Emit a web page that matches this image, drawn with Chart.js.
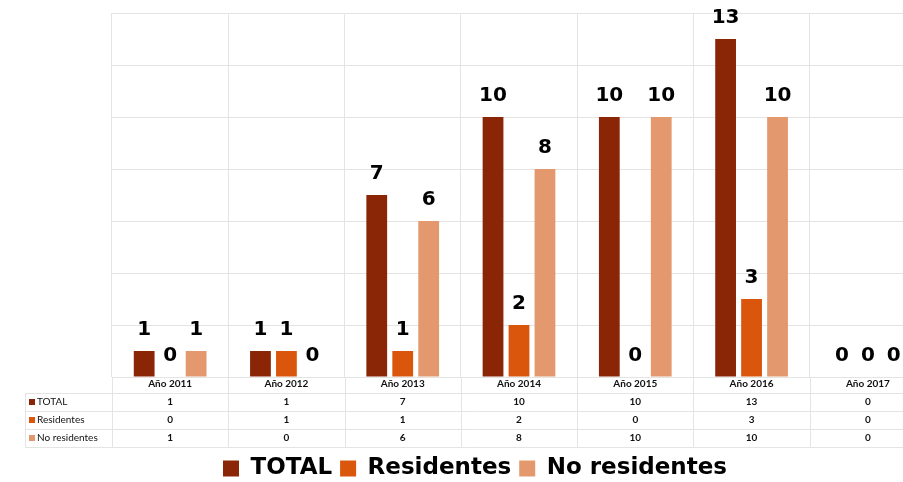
<!DOCTYPE html>
<html>
<head>
<meta charset="utf-8">
<script src="https://cdn.jsdelivr.net/npm/chart.js@4.4.1/dist/chart.umd.min.js"></script>
<style>
  html, body { margin: 0; padding: 0; background: #ffffff; overflow: hidden; }
  #wrap { width: 926px; height: 482px; }
</style>
</head>
<body>
<div id="wrap"><canvas id="c" width="926" height="482"></canvas></div>
<script>
const categories = ['Año 2011', 'Año 2012', 'Año 2013', 'Año 2014', 'Año 2015', 'Año 2016', 'Año 2017'];
const seriesNames = ['TOTAL', 'Residentes', 'No residentes'];
const totalValues = [1, 1, 7, 10, 10, 13, 0];
const residentesValues = [0, 1, 1, 2, 0, 3, 0];
const noResidentesValues = [1, 0, 6, 8, 10, 10, 0];
const seriesColors = ['#8a2606', '#d9560c', '#e3996d'];

const GRID = '#e4e4e4';

const tablePlugin = {
  id: 'tablePlugin',
  afterDraw(chart) {
    const ctx = chart.ctx;
    const xs = chart.scales.x;
    const area = chart.chartArea;
    const rowH = 18;
    const headerBottom = xs.top + 16;
    const tableBottom = headerBottom + rowH * 3;
    ctx.save();
    ctx.strokeStyle = GRID;
    ctx.lineWidth = 1;
    for (let i = 0; i <= categories.length; i++) {
      const x = Math.round(xs.getPixelForValue(i - 0.5)) + 0.5;
      ctx.beginPath();
      ctx.moveTo(x, area.bottom);
      ctx.lineTo(x, tableBottom);
      ctx.stroke();
    }
    for (let r = 0; r <= 3; r++) {
      const y = Math.round(headerBottom + r * rowH) + 0.5;
      ctx.beginPath();
      ctx.moveTo(25, y);
      ctx.lineTo(chart.width, y);
      ctx.stroke();
    }
    ctx.beginPath();
    ctx.moveTo(25.5, headerBottom);
    ctx.lineTo(25.5, tableBottom);
    ctx.stroke();
    chart.data.datasets.forEach((ds, r) => {
      const yc = headerBottom + r * rowH + rowH / 2;
      ctx.fillStyle = ds.backgroundColor;
      ctx.fillRect(29, yc - 3, 6, 6);
      ctx.fillStyle = '#111';
      ctx.font = '10px Lato';
      ctx.textAlign = 'left';
      ctx.textBaseline = 'middle';
      ctx.fillText(ds.label, 37, yc);
      ctx.font = 'bold 10px Lato';
      ctx.textAlign = 'center';
      ds.data.forEach((v, j) => {
        ctx.fillText(String(v), xs.getPixelForValue(j), yc);
      });
    });
    ctx.restore();
  }
};

const labelPlugin = {
  id: 'labelPlugin',
  afterDatasetsDraw(chart) {
    const ctx = chart.ctx;
    ctx.save();
    ctx.font = 'bold 20px "DejaVu Sans"';
    ctx.fillStyle = '#000';
    ctx.textAlign = 'center';
    ctx.textBaseline = 'bottom';
    chart.data.datasets.forEach((ds, i) => {
      const meta = chart.getDatasetMeta(i);
      meta.data.forEach((bar, j) => {
        const v = ds.data[j];
        ctx.fillText(String(v), bar.x, bar.y - 11);
      });
    });
    ctx.restore();
  }
};

new Chart(document.getElementById('c'), {
  type: 'bar',
  data: {
    labels: categories,
    datasets: [
      { label: seriesNames[0], data: totalValues, backgroundColor: seriesColors[0] },
      { label: seriesNames[1], data: residentesValues, backgroundColor: seriesColors[1] },
      { label: seriesNames[2], data: noResidentesValues, backgroundColor: seriesColors[2] }
    ]
  },
  options: {
    responsive: false,
    animation: false,
    layout: { padding: { top: 13, left: 24, right: 0, bottom: -8 } },
    datasets: { bar: { categoryPercentage: 0.67, barPercentage: 0.8 } },
    scales: {
      x: {
        grid: { offset: true, color: GRID, drawTicks: false },
        border: { display: false },
        ticks: { font: { family: 'Lato', size: 10, weight: 'bold' }, color: '#111', padding: 1, maxRotation: 0 },
        afterFit(s) { s.height = 72; }
      },
      y: {
        min: 0, max: 14,
        ticks: { display: false, stepSize: 2 },
        grid: { color: GRID, drawTicks: false },
        border: { display: false },
        afterFit(s) { s.width = 88; }
      }
    },
    plugins: {
      legend: {
        position: 'bottom',
        labels: {
          boxWidth: 16, boxHeight: 16, padding: 8, color: '#000',
          font: { family: '"DejaVu Sans"', size: 23, weight: 'bold' }
        }
      },
      tooltip: { enabled: false }
    }
  },
  plugins: [tablePlugin, labelPlugin]
});
</script>
</body>
</html>
